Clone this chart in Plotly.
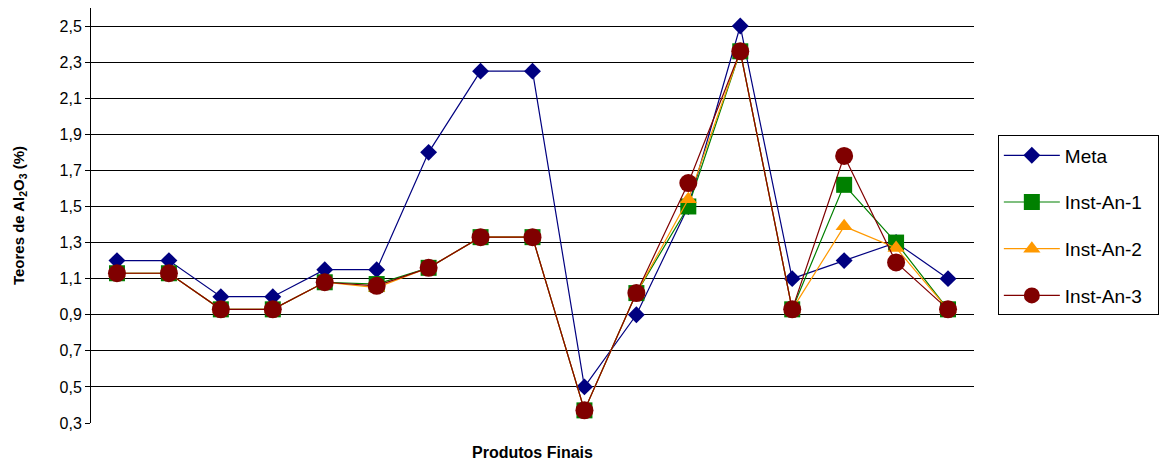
import plotly.graph_objects as go

categories = [str(i) for i in range(1, 18)]
meta = [1.2, 1.2, 1.0, 1.0, 1.15, 1.15, 1.8, 2.25, 2.25, 0.5, 0.9, 1.5, 2.5, 1.1, 1.2, 1.3, 1.1]
inst_an_1 = [1.13, 1.13, 0.93, 0.93, 1.08, 1.07, 1.16, 1.33, 1.33, 0.37, 1.02, 1.50, 2.36, 0.93, 1.62, 1.30, 0.93]
inst_an_2 = [1.13, 1.13, 0.93, 0.93, 1.08, 1.05, 1.16, 1.33, 1.33, 0.37, 1.02, 1.54, 2.36, 0.93, 1.39, 1.27, 0.93]
inst_an_3 = [1.13, 1.13, 0.93, 0.93, 1.08, 1.06, 1.16, 1.33, 1.33, 0.37, 1.02, 1.63, 2.36, 0.93, 1.78, 1.19, 0.93]
y_ticks = [0.3, 0.5, 0.7, 0.9, 1.1, 1.3, 1.5, 1.7, 1.9, 2.1, 2.3, 2.5]
y_tick_labels = [f"{v:.1f}".replace(".", ",") for v in y_ticks]

series = [
    ("Meta", meta, "#000080", "diamond", 13),
    ("Inst-An-1", inst_an_1, "#008000", "square", 16),
    ("Inst-An-2", inst_an_2, "#FF9900", "triangle-up", 15),
    ("Inst-An-3", inst_an_3, "#800000", "circle", 18),
]

font = "Liberation Sans, Arial, sans-serif"
pad = "\u00a0\u00a0"
fig = go.Figure()
for name, vals, color, sym, sz in series:
    fig.add_trace(go.Scatter(
        x=categories, y=vals, name=name + pad, mode="lines+markers",
        legendgroup=name,
        line=dict(color=color, width=1.2),
        marker=dict(symbol=sym, size=sz, color=color, line=dict(width=0)),
    ))

fig.update_layout(
    width=1160, height=454,
    margin=dict(l=83, r=194, t=0, b=39),
    plot_bgcolor="white", paper_bgcolor="white",
    font=dict(family=font, color="black", size=16),
    showlegend=True,
    legend=dict(
        x=1.027, xanchor="left", y=0.476, yanchor="middle",
        bordercolor="black", borderwidth=1,
        font=dict(size=19, family=font),
        tracegroupgap=19,
        itemwidth=56,
    ),
    xaxis=dict(
        type="category", showticklabels=False, ticks="",
        showgrid=False, showline=False, zeroline=False,
        range=[-0.5, 16.5],
        title=dict(text="<b>Produtos Finais</b>", font=dict(size=16, family=font), standoff=23),
    ),
    yaxis=dict(
        range=[0.3, 2.6], tickvals=y_ticks, ticktext=y_tick_labels,
        showgrid=True, gridcolor="black", gridwidth=1,
        showline=True, linecolor="black", linewidth=1,
        ticks="outside", ticklen=5, tickcolor="black",
        zeroline=False,
        title=dict(text="<b>Teores de Al<sub>2</sub>O<sub>3</sub> (%)</b>", font=dict(size=15, family=font), standoff=31),
    ),
)

fig.write_html("out.html")
